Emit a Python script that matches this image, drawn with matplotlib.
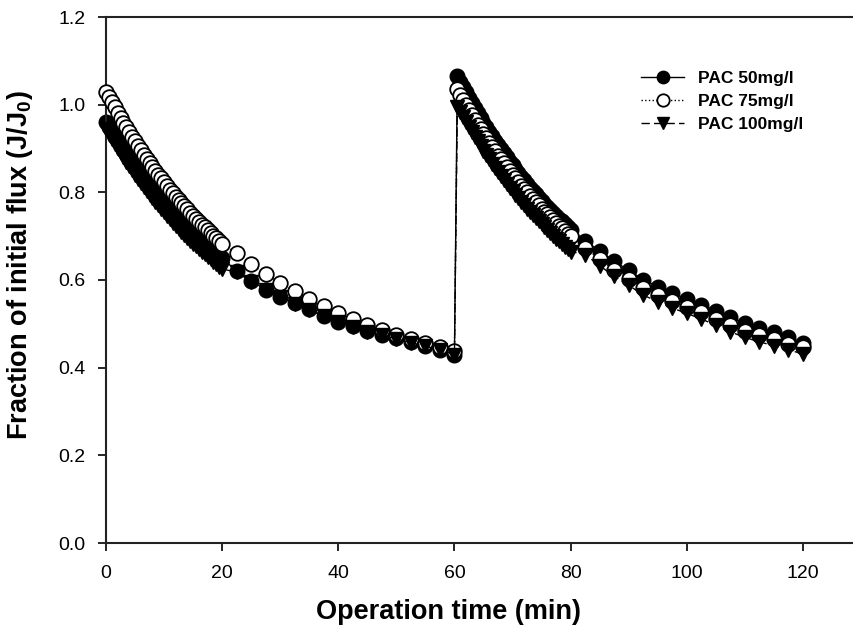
import numpy as np
import matplotlib
matplotlib.use("Agg")
import matplotlib.pyplot as plt

plt.rcParams['font.family'] = ['Liberation Sans', 'DejaVu Sans']

# Sampling times (min): dense logging during the first 20 min of each cycle,
# then one reading every 2.5 min.
t_dense1 = np.arange(0, 20.01, 0.5)
t_sparse1 = np.arange(22.5, 60.01, 2.5)
t_dense2 = np.arange(60.5, 80.01, 0.5)
t_sparse2 = np.arange(82.5, 120.01, 2.5)
time = np.concatenate([t_dense1, t_sparse1, t_dense2, t_sparse2])

labels = ["PAC 50mg/l", "PAC 75mg/l", "PAC 100mg/l"]

# Normalised flux J/J0 for each PAC dose
pac50_c1 = [0.960, 0.949, 0.938, 0.927, 0.917, 0.907, 0.897, 0.887, 0.877, 0.868,
            0.859, 0.849, 0.841, 0.832, 0.823, 0.815, 0.807, 0.798, 0.790, 0.783,
            0.775, 0.768, 0.760, 0.753, 0.746, 0.739, 0.732, 0.726, 0.719, 0.713,
            0.706, 0.700, 0.694, 0.688, 0.683, 0.677, 0.671, 0.666, 0.660, 0.655,
            0.650]
pac50_s1 = [0.620, 0.598, 0.578, 0.562, 0.548, 0.533, 0.518, 0.505, 0.494, 0.483,
            0.475, 0.467, 0.458, 0.449, 0.441, 0.430]
pac50_c2 = [1.065, 1.052, 1.040, 1.028, 1.016, 1.004, 0.992, 0.981, 0.970, 0.959,
            0.949, 0.938, 0.928, 0.918, 0.908, 0.898, 0.889, 0.880, 0.870, 0.862,
            0.853, 0.844, 0.836, 0.827, 0.819, 0.811, 0.804, 0.796, 0.788, 0.781,
            0.774, 0.767, 0.760, 0.753, 0.746, 0.740, 0.734, 0.727, 0.721, 0.715]
pac50_s2 = [0.690, 0.666, 0.643, 0.622, 0.601, 0.585, 0.570, 0.557, 0.544, 0.530,
            0.515, 0.502, 0.491, 0.481, 0.470, 0.457]

pac75_c1 = [1.030, 1.018, 1.005, 0.994, 0.982, 0.970, 0.959, 0.948, 0.937, 0.927,
            0.916, 0.906, 0.896, 0.886, 0.877, 0.867, 0.858, 0.849, 0.840, 0.832,
            0.823, 0.815, 0.806, 0.798, 0.790, 0.783, 0.775, 0.768, 0.761, 0.753,
            0.746, 0.739, 0.733, 0.726, 0.720, 0.713, 0.707, 0.701, 0.695, 0.689,
            0.683]
pac75_s1 = [0.661, 0.636, 0.613, 0.593, 0.574, 0.556, 0.540, 0.525, 0.511, 0.498,
            0.486, 0.475, 0.465, 0.456, 0.447, 0.437]
pac75_c2 = [1.035, 1.023, 1.011, 0.999, 0.987, 0.976, 0.965, 0.954, 0.944, 0.933,
            0.923, 0.913, 0.903, 0.894, 0.884, 0.875, 0.866, 0.857, 0.849, 0.840,
            0.832, 0.823, 0.815, 0.808, 0.800, 0.792, 0.785, 0.777, 0.770, 0.763,
            0.756, 0.750, 0.743, 0.736, 0.730, 0.724, 0.718, 0.712, 0.706, 0.700]
pac75_s2 = [0.673, 0.648, 0.623, 0.603, 0.581, 0.566, 0.552, 0.539, 0.526, 0.512,
            0.497, 0.484, 0.474, 0.465, 0.455, 0.447]

pac100_c1 = [0.945, 0.934, 0.922, 0.911, 0.901, 0.890, 0.880, 0.870, 0.860, 0.850,
             0.840, 0.831, 0.822, 0.813, 0.804, 0.795, 0.787, 0.778, 0.770, 0.762,
             0.754, 0.746, 0.739, 0.731, 0.724, 0.717, 0.710, 0.703, 0.696, 0.690,
             0.683, 0.677, 0.671, 0.665, 0.659, 0.653, 0.647, 0.641, 0.636, 0.630,
             0.625]
pac100_s1 = [0.618, 0.596, 0.577, 0.561, 0.546, 0.532, 0.517, 0.504, 0.493, 0.482,
             0.474, 0.466, 0.457, 0.449, 0.441, 0.430]
pac100_c2 = [0.995, 0.983, 0.971, 0.960, 0.948, 0.937, 0.926, 0.916, 0.905, 0.895,
             0.885, 0.875, 0.865, 0.856, 0.847, 0.838, 0.829, 0.820, 0.811, 0.803,
             0.795, 0.787, 0.779, 0.771, 0.763, 0.756, 0.748, 0.741, 0.734, 0.727,
             0.720, 0.714, 0.707, 0.701, 0.694, 0.688, 0.682, 0.676, 0.670, 0.665]
pac100_s2 = [0.658, 0.633, 0.608, 0.588, 0.566, 0.550, 0.536, 0.524, 0.511, 0.497,
             0.482, 0.469, 0.459, 0.450, 0.440, 0.432]

pac50 = np.concatenate([pac50_c1, pac50_s1, pac50_c2, pac50_s2])
pac75 = np.concatenate([pac75_c1, pac75_s1, pac75_c2, pac75_s2])
pac100 = np.concatenate([pac100_c1, pac100_s1, pac100_c2, pac100_s2])

fig = plt.figure(figsize=(8.54, 6.35), dpi=100)
ax = fig.add_axes([106 / 854, 1 - 543 / 635, 1 - 106 / 854, (543 - 17) / 635])

ms = 10.5
ax.plot(time, pac50, linestyle='-', color='black', lw=1.0,
        marker='o', ms=ms, mfc='black', mec='black', clip_on=False, zorder=2,
        label=labels[0])
ax.plot(time, pac75, linestyle=':', color='black', lw=1.0,
        marker='o', ms=ms, mfc='white', mec='black', mew=1.3, clip_on=False,
        zorder=3, label=labels[1])
ax.plot(time, pac100, linestyle=(0, (6, 3)), color='black', lw=1.0,
        marker='v', ms=ms, mfc='black', mec='black', clip_on=False, zorder=4,
        label=labels[2])

ax.set_xlim(0, 128.8)
ax.set_ylim(0, 1.2)
ax.set_xticks([0, 20, 40, 60, 80, 100, 120])
ax.set_yticks([0.0, 0.2, 0.4, 0.6, 0.8, 1.0, 1.2])
ax.set_yticklabels(["0.0", "0.2", "0.4", "0.6", "0.8", "1.0", "1.2"])
ax.tick_params(direction='out', length=6, width=1.2, labelsize=14, colors='black')
ax.tick_params(axis='x', pad=10)
ax.tick_params(axis='y', pad=9)

for side in ('left', 'bottom', 'top'):
    ax.spines[side].set_linewidth(1.5)
    ax.spines[side].set_color('#222222')
ax.spines['right'].set_visible(False)

ax.set_xlabel("Operation time (min)", fontsize=19.5, fontweight='bold')
ax.set_ylabel("Fraction of initial flux (J/J$_\\mathregular{0}$)", fontsize=19.5,
              fontweight='bold')
ax.xaxis.set_label_coords((449 - 106) / 748, (543 - 612) / 526)
ax.yaxis.set_label_coords((20 - 106) / 748, (543 - 265) / 526)
ax.xaxis.label.set_va('center')
ax.yaxis.label.set_va('center')

ax.legend(loc='upper left', bbox_to_anchor=(641 / 854, 1 - 71 / 635),
          bbox_transform=fig.transFigure, frameon=False,
          prop={'weight': 'bold', 'size': 12.5}, handlelength=2.5,
          handletextpad=0.8, labelspacing=0.45, borderpad=0, borderaxespad=0,
          markerscale=0.85)

fig.savefig("out.png", dpi=100)
